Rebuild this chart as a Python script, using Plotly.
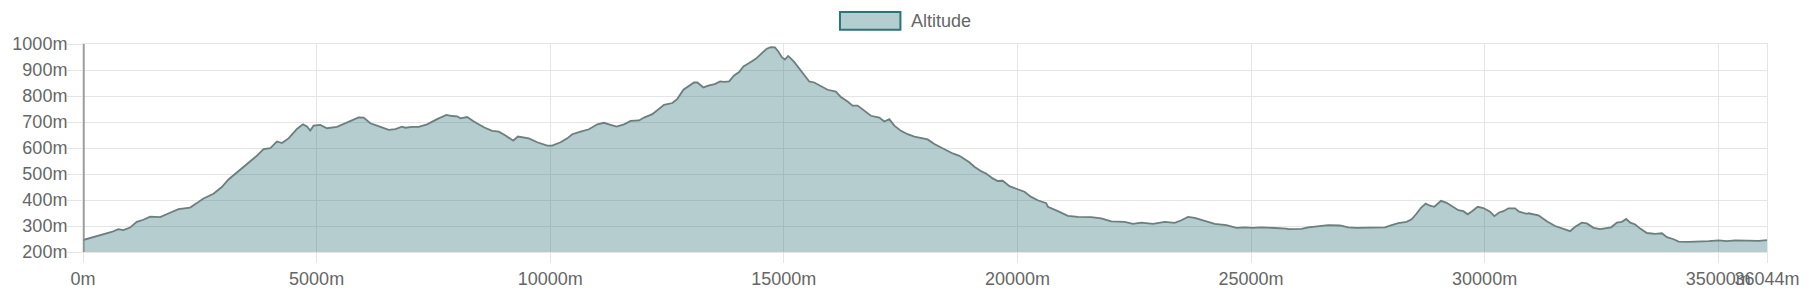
import plotly.graph_objects as go

# distance along route (m)
distance = [0, 150, 364, 471, 614, 757, 864, 1007, 1150, 1293, 1436, 1650, 1793, 1900, 2043, 2293, 2436,
            2579, 2793, 2971, 3114, 3293, 3436, 3614, 3721, 3864, 4007, 4150, 4257, 4400, 4579, 4707,
            4793, 4864, 4936, 5079, 5222, 5436, 5650, 5793, 5900, 6007, 6150, 6293, 6543, 6686, 6829,
            6900, 7043, 7186, 7365, 7579, 7779, 7900, 8007, 8079, 8222, 8365, 8579, 8757, 8900, 9043,
            9208, 9308, 9543, 9722, 9936, 10043, 10222, 10365, 10472, 10650, 10829, 11008, 11151,
            11258, 11422, 11579, 11722, 11901, 12008, 12186, 12329, 12436, 12615, 12722, 12851, 12972,
            13079, 13151, 13279, 13401, 13522, 13637, 13722, 13829, 13936, 14043, 14136, 14258, 14400,
            14508, 14636, 14722, 14808, 14879, 14958, 15022, 15094, 15222, 15351, 15472, 15544, 15651,
            15794, 15937, 16115, 16222, 16365, 16472, 16579, 16722, 16865, 17044, 17151, 17258, 17365,
            17508, 17651, 17794, 17972, 18079, 18222, 18437, 18615, 18758, 18972, 19079, 19222, 19329,
            19472, 19579, 19686, 19829, 19972, 20151, 20294, 20436, 20615, 20652, 20866, 21080, 21295,
            21580, 21795, 22009, 22295, 22473, 22652, 22902, 23152, 23366, 23509, 23652, 23795, 24009,
            24223, 24473, 24688, 24866, 25045, 25223, 25509, 25759, 25795, 26081, 26223, 26438, 26652,
            26902, 27081, 27259, 27509, 27866, 28009, 28152, 28331, 28438, 28545, 28638, 28738, 28831,
            28923, 29066, 29188, 29295, 29438, 29545, 29638, 29738, 29852, 29973, 30116, 30209, 30309,
            30402, 30509, 30652, 30738, 30902, 30938, 31152, 31331, 31509, 31688, 31830, 31938, 32081,
            32188, 32331, 32474, 32617, 32709, 32831, 32938, 33031, 33117, 33224, 33331, 33474, 33652,
            33795, 33902, 34045, 34152, 34366, 34652, 34795, 35009, 35188, 35366, 35580, 35866, 36044]

# altitude (m)
altitude = [246, 254, 264, 272, 277, 288, 284, 294, 316, 324, 336, 334, 347, 354, 365, 371, 388,
            406, 424, 450, 479, 506, 524, 554, 570, 596, 599, 625, 619, 637, 673, 691,
            683, 667, 686, 689, 676, 681, 699, 708, 718, 717, 695, 686, 670, 673, 682,
            678, 681, 681, 691, 711, 727, 723, 722, 714, 719, 702, 680, 666, 663, 648,
            628, 644, 637, 622, 609, 609, 622, 637, 653, 663, 672, 691, 697,
            691, 682, 691, 704, 706, 717, 730, 750, 766, 773, 789, 824, 839,
            852, 852, 833, 841, 846, 856, 854, 856, 879, 892, 914, 927, 943,
            961, 982, 988, 987, 972, 949, 940, 954, 931, 902, 874, 856, 852,
            837, 824, 817, 796, 779, 763, 763, 743, 724, 717, 702, 711, 686,
            666, 653, 644, 637, 633, 615, 596, 579, 570, 545, 528, 511, 502,
            483, 473, 474, 453, 444, 432, 412, 399, 388, 374, 357, 339, 335,
            334, 329, 318, 316, 308, 313, 308, 316, 312, 322, 335, 331, 320,
            308, 303, 293, 295, 293, 295, 293, 290, 288, 289, 295, 298, 303,
            302, 295, 293, 295, 295, 303, 311, 316, 326, 348, 370, 386, 378,
            374, 397, 389, 378, 361, 357, 345, 358, 374, 369, 355, 338, 352,
            357, 368, 368, 355, 347, 349, 341, 318, 300, 290, 280, 297, 313,
            310, 293, 288, 293, 295, 313, 316, 327, 313, 306, 290, 273, 270,
            272, 257, 249, 240, 239, 240, 242, 245, 242, 245, 243, 243, 246]

x_ticks = [0, 5000, 10000, 15000, 20000, 25000, 30000, 35000, 36044]
x_tick_labels = [f"{v}m" for v in x_ticks]
y_ticks = [200, 300, 400, 500, 600, 700, 800, 900, 1000]
y_tick_labels = [f"{v}m" for v in y_ticks]
series_name = "Altitude"
cursor_distance = 0

FONT = "Liberation Sans, Arial, sans-serif"
GRID = "#e5e5e5"
FILL = "rgba(42,112,115,0.35)"
LINE = "rgb(108,126,126)"
LEGEND_BORDER = "rgb(40,118,118)"

fig = go.Figure()
fig.add_trace(go.Scatter(
    x=distance, y=altitude, name=series_name, mode="lines",
    fill="tozeroy", fillcolor=FILL,
    line=dict(color=LINE, width=1.8),
    showlegend=False,
))

# cursor line at start
fig.add_shape(type="line", xref="x", yref="paper", x0=cursor_distance, x1=cursor_distance,
              y0=0, y1=1, line=dict(color="rgba(140,140,140,0.85)", width=3.5), layer="above")

# custom legend (Chart.js-like box)
fig.add_shape(type="rect", xref="paper", yref="paper", x0=0.4495, x1=0.4854, y0=1.068, y1=1.154,
              fillcolor="rgb(180,205,206)", line=dict(color=LEGEND_BORDER, width=2))
fig.add_annotation(xref="paper", yref="paper", x=0.4905, y=1.111, text=series_name,
                   showarrow=False, xanchor="left", yanchor="middle",
                   font=dict(family=FONT, size=18, color="#666"))

fig.update_layout(
    width=1816, height=295,
    margin=dict(l=83, r=49, t=44, b=43, autoexpand=False),
    paper_bgcolor="white", plot_bgcolor="white",
    font=dict(family=FONT, size=18, color="#666"),
    showlegend=False,
)
fig.update_xaxes(
    range=[0, 36044], tickvals=x_ticks, ticktext=x_tick_labels,
    tickangle=0, automargin=False,
    showgrid=True, gridcolor=GRID, gridwidth=1,
    ticks="outside", ticklen=10, tickcolor=GRID, tickwidth=1,
    showline=True, linecolor=GRID, linewidth=1, mirror=True,
    zeroline=False, tickfont=dict(family=FONT, size=18, color="#666"),
)
fig.update_yaxes(
    range=[200, 1000], tickvals=y_ticks, ticktext=y_tick_labels,
    automargin=False, ticklabelstandoff=-4,
    showgrid=True, gridcolor=GRID, gridwidth=1,
    ticks="outside", ticklen=15, tickcolor=GRID, tickwidth=1,
    showline=True, linecolor=GRID, linewidth=1, mirror=True,
    zeroline=False, tickfont=dict(family=FONT, size=18, color="#666"),
)

fig.write_html("out.html")
